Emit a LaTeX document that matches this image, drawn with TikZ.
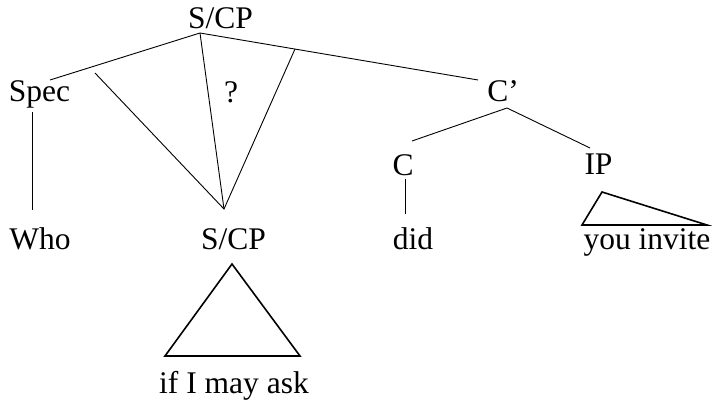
\documentclass[tikz,border=0pt]{standalone}
\usepackage{fontspec}
\setmainfont{Liberation Serif}
\begin{document}
\begin{tikzpicture}[x=1pt,y=-1pt,
  lbl/.style={anchor=base,inner sep=0pt,font=\fontsize{31.5}{36}\selectfont},
  branch/.style={line width=0.9pt},
  roof/.style={line width=1.6pt,line join=miter}]
\useasboundingbox (0,0) rectangle (712,406);

% category and word labels
\node[lbl] (root) at (220.5,29) {S/CP};
\node[lbl] (spec) at (39.5,102) {Spec};
\node[lbl] (q)    at (231,103) {?};
\node[lbl] (cbar) at (503,102) {C’};
\node[lbl] (c)    at (403,176) {C};
\node[lbl] (ip)   at (598.5,175) {IP};
\node[lbl] (who)  at (40,250) {Who};
\node[lbl] (scp)  at (233.5,250) {S/CP};
\node[lbl] (did)  at (413,249) {did};
\node[lbl] (you)  at (647,249) {you invite};
\node[lbl] (ask)  at (234,393) {if I may ask};

% attachment points of the branches
\coordinate (rootB) at (200,33);
\coordinate (specT) at (50,80);
\coordinate (specB) at (32,112);
\coordinate (whoT)  at (32,210);
\coordinate (fanL)  at (95,73);
\coordinate (fanR)  at (295,49);
\coordinate (scpT)  at (224,209);
\coordinate (cbarT) at (478,80);
\coordinate (cbarB) at (507,108);
\coordinate (cT)    at (412,141);
\coordinate (cB)    at (405,179);
\coordinate (didT)  at (405,214);
\coordinate (ipT)   at (590,148);

% branches
\draw[branch] (specT) -- (rootB) -- (cbarT);
\draw[branch] (rootB) -- (scpT);
\draw[branch] (fanL) -- (scpT) -- (fanR);
\draw[branch] (specB) -- (whoT);
\draw[branch] (cT) -- (cbarB) -- (ipT);
\draw[branch] (cB) -- (didT);

% triangles over unanalysed constituents
\draw[roof] (232,264) -- (165,356) -- (300,356) -- cycle;
\draw[roof] (602,192) -- (582,225) -- (707,225) -- cycle;
\end{tikzpicture}
\end{document}
